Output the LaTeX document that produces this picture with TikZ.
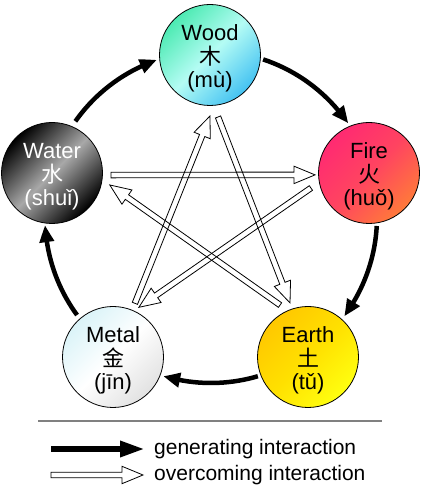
\documentclass[tikz,border=0pt]{standalone}
\usepackage{fontspec}
\setmainfont{Liberation Sans}
\newfontfamily\cjk{Noto Sans CJK SC}
\usetikzlibrary{arrows.meta,bending,calc}

\definecolor{woodA}{HTML}{4CEAB2}
\definecolor{woodB}{HTML}{B4FCF4}
\definecolor{woodC}{HTML}{44C2F2}
\definecolor{fireA}{HTML}{FF2A72}
\definecolor{fireB}{HTML}{FF4460}
\definecolor{fireC}{HTML}{FF7A3A}
\definecolor{earthA}{HTML}{FFC800}
\definecolor{earthB}{HTML}{FFE000}
\definecolor{earthC}{HTML}{FFFF10}
\definecolor{metalA}{HTML}{DAF3F8}
\definecolor{metalB}{HTML}{FFFFFF}
\definecolor{metalC}{HTML}{E2E2E2}
\definecolor{waterB}{HTML}{A8A8A8}

% hollow arrow from #2 to #3
\newcommand\overcome[3][]{%
  \draw[over,#1] let \p1=#2, \p2=#3,
    \n1={atan2(\y2-\y1,\x2-\x1)}, \n2={veclen(\x2-\x1,\y2-\y1)} in
    [shift={(\p1)}, rotate=\n1]
    (0,-2.8) -- (\n2-21,-2.8) -- (\n2-21,-8.7) -- (\n2,0)
    -- (\n2-21,8.7) -- (\n2-21,2.8) -- (0,2.8) -- cycle;}

\begin{document}
\begin{tikzpicture}[x=1pt,y=1pt,
  phase/.style={circle,draw,line width=0.8pt,minimum size=101pt,inner sep=0pt,
    align=center,text height=66pt,text depth=0pt,font=\fontsize{22}{23.5}\selectfont},
  gen/.style={line width=4.5pt,-{Triangle[bend,length=17pt,width=14pt]}},
  over/.style={line width=0.8pt}]
\useasboundingbox (0,0) rectangle (421,495);

\node[phase,top color=woodA,bottom color=woodC,middle color=woodB,shading angle=45]
  (wood) at (210,440) {Wood\\{\cjk 木}\\(mù)};
\node[phase,top color=fireA,bottom color=fireC,middle color=fireB,shading angle=45]
  (fire) at (369,322) {Fire\\{\cjk 火}\\(huǒ)};
\node[phase,top color=earthA,bottom color=earthC,middle color=earthB,shading angle=45]
  (earth) at (308,138) {Earth\\{\cjk 土}\\(tǔ)};
\node[phase,top color=metalA,bottom color=metalC,middle color=metalB,shading angle=45]
  (metal) at (113,138) {Metal\\{\cjk 金}\\(jīn)};
\node[phase,text=white,top color=black,bottom color=black,middle color=waterB,shading angle=45]
  (water) at (52,322) {Water\\{\cjk 水}\\(shuǐ)};

% generating cycle
\coordinate (hub) at (211,278);
\draw[gen] ([shift={(144.8:166)}]hub) arc[start angle=144.8,end angle=109,radius=166];
\draw[gen] ([shift={(71.7:166)}]hub) arc[start angle=71.7,end angle=34.3,radius=166];
\draw[gen] ([shift={(-3.1:166)}]hub) arc[start angle=-3.1,end angle=-36.7,radius=166];
\draw[gen] ([shift={(-73.6:166)}]hub) arc[start angle=-73.6,end angle=-106.7,radius=166];
\draw[gen] ([shift={(-143.8:166)}]hub) arc[start angle=-143.8,end angle=-177.2,radius=166];

% overcoming star
\overcome{([shift={(-2:59)}]water.center)}{([shift={(182:54)}]fire.center)}
\overcome{([shift={(118.3:59)}]earth.center)}{([shift={(-11.7:59)}]water.center)}
\overcome{([shift={(194.5:60)}]fire.center)}{([shift={(62.5:56)}]metal.center)}
\overcome{([shift={(67.8:58)}]metal.center)}{([shift={(-90:61)}]wood.center)}
\overcome{([shift={(-82.6:62.5)}]wood.center)}{([shift={(108.4:57)}]earth.center)}

% legend
\coordinate (rule1) at (38,74);
\coordinate (rule2) at (382,74);
\draw[gray,line width=1.3pt] (rule1) -- (rule2);
\coordinate (g1) at (51,46);
\coordinate (g2) at (145,46);
\draw[line width=6pt,-{Triangle[length=25pt,width=15pt]}] (g1) -- (g2);
\node[anchor=base west,inner sep=0pt,font=\fontsize{21}{23}\selectfont] (gtext) at (154,40) {generating interaction};
\coordinate (o1) at (51,20);
\coordinate (o2) at (143,20);
\overcome{(o1)}{(o2)}
\node[anchor=base west,inner sep=0pt,font=\fontsize{21}{23}\selectfont] (otext) at (154,14) {overcoming interaction};
\end{tikzpicture}
\end{document}
